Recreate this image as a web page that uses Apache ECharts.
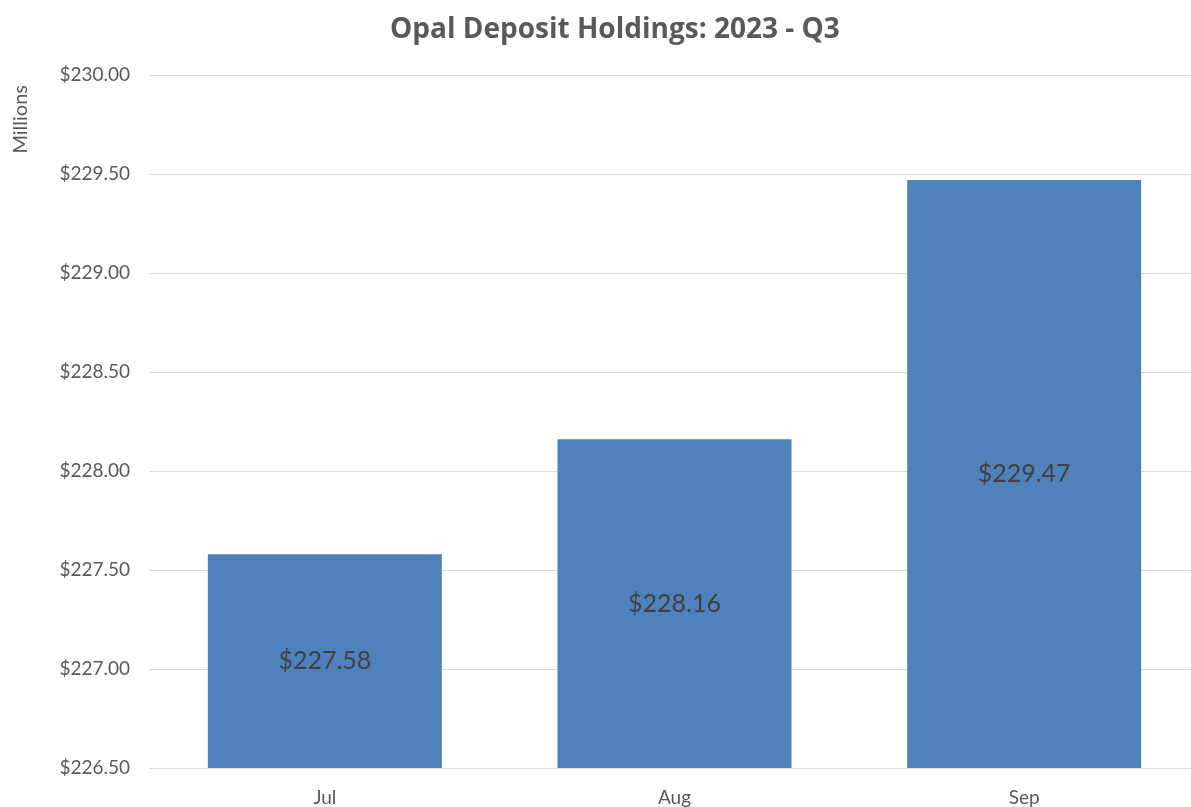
<!DOCTYPE html>
<html>
<head>
<meta charset="utf-8">
<script src="https://cdn.jsdelivr.net/npm/echarts@6/dist/echarts.min.js"></script>
<style>
  html, body { margin: 0; padding: 0; background: #fff; overflow: hidden; }
  #chart { width: 1205px; height: 807px; }
</style>
</head>
<body>
<div id="chart"></div>
<script>
// data (millions of dollars)
var months = ["Jul", "Aug", "Sep"];
var holdings = [227.58, 228.16, 229.47];

var textFont = "Lato";
var chart = echarts.init(document.getElementById("chart"));

function money(v) {
    return "$" + v.toFixed(2);
}

chart.setOption({
    animation: false,
    title: {
        text: "Opal Deposit Holdings: 2023 - Q3",
        left: 385,
        top: 11,
        textStyle: { fontFamily: "Open Sans", fontSize: 28, fontWeight: "bold", color: "#595959" }
    },
    graphic: [{
        type: "text",
        left: 11,
        top: 85,
        rotation: Math.PI / 2,
        style: { text: "Millions", fontFamily: textFont, fontSize: 20, fill: "#595959" }
    }],
    // plot runs a little past the window's right edge, as in the reference
    grid: { left: 150, width: 1049, top: 75, bottom: 39, containLabel: false },
    xAxis: {
        type: "category",
        data: months,
        axisLine: { show: true, lineStyle: { color: "#d9d9d9" } },
        axisTick: { show: false },
        axisLabel: { margin: 20, fontFamily: textFont, fontSize: 19, color: "#595959" }
    },
    yAxis: {
        type: "value",
        min: 226.5,
        max: 230,
        interval: 0.5,
        axisLine: { show: false },
        axisTick: { show: false },
        splitLine: { lineStyle: { color: "#d9d9d9", width: 1 } },
        axisLabel: {
            margin: 20,
            fontFamily: textFont,
            fontSize: 19,
            color: "#595959",
            formatter: money
        }
    },
    series: [{
        type: "bar",
        data: holdings,
        barWidth: 234,
        itemStyle: { color: "#4f81bd" },
        label: {
            show: true,
            position: "inside",
            fontFamily: textFont,
            fontSize: 25,
            color: "#404040",
            formatter: function(p) { return money(p.value); }
        }
    }]
});
</script>
</body>
</html>
